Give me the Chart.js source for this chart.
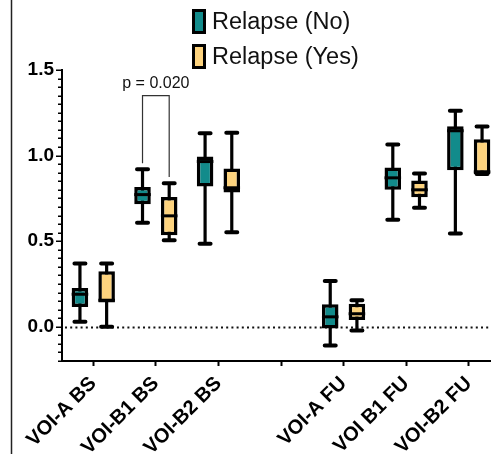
<!DOCTYPE html>
<html>
<head>
<meta charset="utf-8">
<script src="https://cdn.jsdelivr.net/npm/chart.js@4"></script>
<style>
  html, body { margin: 0; padding: 0; background: #fff; overflow: hidden; }
  #wrap { position: relative; width: 500px; height: 454px; }
</style>
</head>
<body>
<div id="wrap"><canvas id="c" width="500" height="454"></canvas></div>
<script>
// Regions of interest at baseline (BS) and follow-up (FU); the empty slot separates the two sessions
const categories = ['VOI-A BS', 'VOI-B1 BS', 'VOI-B2 BS', '', 'VOI-A FU', 'VOI B1 FU', 'VOI-B2 FU'];
const seriesNames = ['Relapse (No)', 'Relapse (Yes)'];

// Relapse (No): five-number summaries per region
const noMin    = [0.03,  0.607, 0.485, null, -0.11, 0.625, 0.545];
const noQ1     = [0.115, 0.715, 0.82,  null, -0.01, 0.80,  0.915];
const noMedian = [0.19,  0.772, 0.965, null,  0.058, 0.87, 1.145];
const noQ3     = [0.226, 0.817, 0.995, null,  0.132, 0.93, 1.172];
const noMax    = [0.37,  0.92,  1.13,  null,  0.268, 1.065, 1.262];

// Relapse (Yes): five-number summaries per region
const yesMin    = [0.0,   0.505, 0.552, null, -0.022, 0.695, 0.892];
const yesQ1     = [0.142, 0.535, 0.785, null,  0.04,  0.756, 0.893];
const yesMedian = [0.155, 0.648, 0.812, null,  0.076, 0.80,  0.905];
const yesQ3     = [0.325, 0.758, 0.925, null,  0.135, 0.855, 1.095];
const yesMax    = [0.37,  0.838, 1.133, null,  0.155, 0.895, 1.17];

// y-axis ticks: minor every 0.05, labelled every 0.5
const yMin = -0.2, yMax = 1.5, yMinorStep = 0.05, yMajorStep = 0.5;

// Significance bracket between the two groups of VOI-B1 BS
const bracketCategory = 1;
const bracketText = 'p = 0.020';
const bracketTop = 1.35, bracketLeftEnd = 0.955, bracketRightEnd = 0.875, bracketTextAt = 1.418;

const TEAL = '#128b8b';
const YELLOW = '#fdd37e';
const FONT = "'Liberation Sans', Arial, Helvetica, sans-serif";

function boxData(q1, q3) {
  return q1.map((v, i) => (v == null ? null : [v, q3[i]]));
}

const summaries = [
  { min: noMin, median: noMedian, max: noMax },
  { min: yesMin, median: yesMedian, max: yesMax }
];

const boxPlotMarks = {
  id: 'boxPlotMarks',
  beforeDatasetsDraw(chart) {
    const { ctx, chartArea } = chart;
    const y = chart.scales.y;
    // dotted reference line at zero
    ctx.save();
    ctx.strokeStyle = '#111';
    ctx.lineWidth = 2;
    ctx.setLineDash([2, 3.2]);
    const y0 = Math.round(y.getPixelForValue(0)) + 0.5;
    ctx.beginPath();
    ctx.moveTo(chartArea.left + 3, y0);
    ctx.lineTo(chart.width, y0);
    ctx.stroke();
    ctx.restore();

    // whiskers and caps
    ctx.save();
    ctx.strokeStyle = '#000';
    chart.data.datasets.forEach((ds, di) => {
      const meta = chart.getDatasetMeta(di);
      const s = summaries[di];
      meta.data.forEach((el, i) => {
        if (s.min[i] == null) return;
        const x = el.x;
        const yLo = y.getPixelForValue(s.min[i]);
        const yHi = y.getPixelForValue(s.max[i]);
        ctx.lineWidth = 3.2;
        ctx.lineCap = 'butt';
        ctx.beginPath();
        ctx.moveTo(x, yLo);
        ctx.lineTo(x, yHi);
        ctx.stroke();
        ctx.lineWidth = 4;
        ctx.lineCap = 'round';
        const cw = 5.5;
        ctx.beginPath();
        ctx.moveTo(x - cw, yLo); ctx.lineTo(x + cw, yLo);
        ctx.moveTo(x - cw, yHi); ctx.lineTo(x + cw, yHi);
        ctx.stroke();
      });
    });
    ctx.restore();
  },
  afterDatasetsDraw(chart) {
    const { ctx, chartArea } = chart;
    const y = chart.scales.y;

    // medians
    ctx.save();
    ctx.strokeStyle = '#000';
    ctx.lineWidth = 3;
    chart.data.datasets.forEach((ds, di) => {
      const meta = chart.getDatasetMeta(di);
      const s = summaries[di];
      meta.data.forEach((el, i) => {
        if (s.median[i] == null) return;
        const ym = y.getPixelForValue(s.median[i]);
        ctx.beginPath();
        ctx.moveTo(el.x - el.width / 2, ym);
        ctx.lineTo(el.x + el.width / 2, ym);
        ctx.stroke();
      });
    });
    ctx.restore();

    // significance bracket
    const a = chart.getDatasetMeta(0).data[bracketCategory];
    const b = chart.getDatasetMeta(1).data[bracketCategory];
    ctx.save();
    ctx.strokeStyle = '#333';
    ctx.lineWidth = 1.2;
    const yt = y.getPixelForValue(bracketTop);
    ctx.beginPath();
    ctx.moveTo(a.x, y.getPixelForValue(bracketLeftEnd));
    ctx.lineTo(a.x, yt);
    ctx.lineTo(b.x, yt);
    ctx.lineTo(b.x, y.getPixelForValue(bracketRightEnd));
    ctx.stroke();
    ctx.fillStyle = '#111';
    ctx.font = '16px ' + FONT;
    ctx.textAlign = 'center';
    ctx.textBaseline = 'middle';
    ctx.fillText(bracketText, (a.x + b.x) / 2, y.getPixelForValue(bracketTextAt));
    ctx.restore();

    // y-axis tick marks: long at labelled values, short in between
    ctx.save();
    ctx.strokeStyle = '#000';
    ctx.lineWidth = 1.5;
    y.ticks.forEach(t => {
      const r = t.value / yMajorStep;
      const major = Math.abs(r - Math.round(r)) < 1e-6;
      const len = major ? 6 : 4;
      const py = Math.round(y.getPixelForValue(t.value)) + 0.25;
      ctx.beginPath();
      ctx.moveTo(chartArea.left - len, py);
      ctx.lineTo(chartArea.left, py);
      ctx.stroke();
    });
    ctx.restore();

    // legend
    ctx.save();
    chart.data.datasets.forEach((ds, di) => {
      const yc = 21.5 + di * 35;
      ctx.fillStyle = ds.backgroundColor;
      ctx.fillRect(192, yc - 12.5, 14, 25);
      ctx.strokeStyle = '#000';
      ctx.lineWidth = 3;
      ctx.strokeRect(193.5, yc - 11, 11, 22);
      ctx.fillStyle = '#111';
      ctx.font = '23.5px ' + FONT;
      ctx.textAlign = 'left';
      ctx.textBaseline = 'middle';
      ctx.fillText(ds.label, 212, yc + 1);
    });
    ctx.restore();

    // panel frame line on the left
    ctx.save();
    ctx.strokeStyle = '#222';
    ctx.lineWidth = 1.5;
    ctx.beginPath();
    ctx.moveTo(11.5, 0);
    ctx.lineTo(11.5, chart.height);
    ctx.stroke();
    ctx.restore();
  }
};

new Chart(document.getElementById('c'), {
  type: 'bar',
  data: {
    labels: categories,
    datasets: [
      {
        label: seriesNames[0],
        data: boxData(noQ1, noQ3),
        backgroundColor: TEAL,
        borderColor: '#000',
        borderWidth: 3.5,
        borderSkipped: false,
        categoryPercentage: 0.853,
        barPercentage: 0.62
      },
      {
        label: seriesNames[1],
        data: boxData(yesQ1, yesQ3),
        backgroundColor: YELLOW,
        borderColor: '#000',
        borderWidth: 3.5,
        borderSkipped: false,
        categoryPercentage: 0.853,
        barPercentage: 0.62
      }
    ]
  },
  options: {
    responsive: false,
    animation: false,
    devicePixelRatio: 1,
    layout: { padding: { top: 70, left: 0, right: 0, bottom: 0 } },
    plugins: { legend: { display: false }, tooltip: { enabled: false } },
    scales: {
      x: {
        offset: true,
        grid: { offset: false, drawOnChartArea: false, drawTicks: true, tickLength: 5, tickWidth: 2, tickColor: '#000' },
        border: { color: '#000', width: 2 },
        ticks: {
          minRotation: 45, maxRotation: 45, autoSkip: false, padding: 6,
          color: '#000', font: { family: FONT, size: 20, weight: 'bold' }
        },
        afterFit(s) { s.height = 93; }
      },
      y: {
        min: yMin, max: yMax,
        grid: { drawOnChartArea: false, drawTicks: false },
        border: { color: '#000', width: 2 },
        ticks: {
          stepSize: yMinorStep, autoSkip: false, padding: 8,
          color: '#000', font: { family: FONT, size: 19, weight: 'bold' },
          callback(v) {
            const r = v / yMajorStep;
            if (Math.abs(r - Math.round(r)) > 1e-6) return '';
            return (Math.round(r) * yMajorStep).toFixed(1);
          }
        },
        afterFit(s) { s.width = 62; }
      }
    }
  },
  plugins: [boxPlotMarks]
});
</script>
</body>
</html>
